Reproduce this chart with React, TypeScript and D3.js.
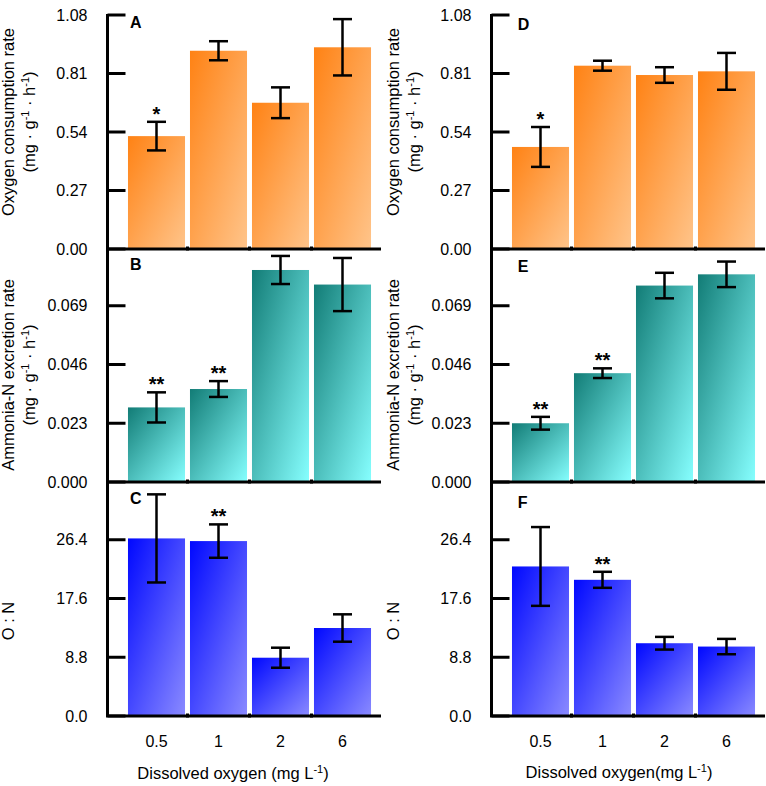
import React from "react";
import * as d3 from "d3";

// dissolved oxygen levels (mg/L)
const doLevels = ["0.5", "1", "2", "6"];

// oxygen consumption rate (mg g-1 h-1)
const o2Left = [0.521, 0.915, 0.675, 0.931];
const o2LeftErr = [0.066, 0.044, 0.071, 0.13];
const o2Right = [0.471, 0.846, 0.803, 0.82];
const o2RightErr = [0.092, 0.023, 0.036, 0.085];

// ammonia-N excretion rate (mg g-1 h-1)
const nhLeft = [0.0292, 0.0364, 0.083, 0.0773];
const nhLeftErr = [0.0059, 0.0031, 0.0055, 0.0104];
const nhRight = [0.023, 0.0426, 0.0769, 0.0813];
const nhRightErr = [0.0025, 0.0019, 0.005, 0.005];

// O:N ratio
const onLeft = [26.6, 26.2, 8.73, 13.18];
const onLeftErr = [6.6, 2.5, 1.5, 2.05];
const onRight = [22.4, 20.4, 10.9, 10.4];
const onRightErr = [5.9, 1.2, 0.95, 1.15];

// significance marks
const starsA = ["*", "", "", ""];
const starsB = ["**", "**", "", ""];
const starsC = ["", "**", "", ""];
const starsD = ["*", "", "", ""];
const starsE = ["**", "**", "", ""];
const starsF = ["", "**", "", ""];

// tick values / labels
const o2Ticks = [0, 0.27, 0.54, 0.81, 1.08];
const nhTicks = [0, 0.023, 0.046, 0.069];
const onTicks = [0, 8.8, 17.6, 26.4];

const FONT = "'Liberation Sans', Arial, Helvetica, sans-serif";

type PanelProps = {
  dx: number;
  top: number;
  bottom: number;
  max: number;
  values: number[];
  errs: number[];
  stars: string[];
  ticks: number[];
  fmt: string;
  letter: string;
  letterY: number;
  grad: string;
};

const Panel = (p: PanelProps) => {
  const axisX = 107.5 + p.dx;
  const x = d3
    .scaleBand()
    .domain(doLevels)
    .range([125.5 + p.dx, 373.5 + p.dx])
    .paddingInner(0.08)
    .paddingOuter(0.04);
  const y = d3.scaleLinear().domain([0, p.max]).range([p.bottom, p.top]);
  const f = d3.format(p.fmt);
  const bw = x.bandwidth();
  const xEnd = 381 + p.dx;

  return (
    <g>
      {p.values.map((v, i) => {
        const cx = x(doLevels[i])! + bw / 2;
        const hi = y(v + p.errs[i]);
        const lo = y(v - p.errs[i]);
        return (
          <g key={i}>
            <rect
              x={x(doLevels[i])}
              y={y(v)}
              width={bw}
              height={p.bottom - y(v)}
              fill={`url(#${p.grad})`}
            />
            <line x1={cx} x2={cx} y1={hi} y2={lo} stroke="#000" strokeWidth={2.5} />
            <line x1={cx - 9.5} x2={cx + 9.5} y1={hi} y2={hi} stroke="#000" strokeWidth={2.5} />
            <line x1={cx - 9.5} x2={cx + 9.5} y1={lo} y2={lo} stroke="#000" strokeWidth={2.5} />
            {p.stars[i] && (
              <text
                x={cx}
                y={hi - 1}
                textAnchor="middle"
                fontSize={20}
                fontWeight="bold"
                fontFamily={FONT}
              >
                {p.stars[i]}
              </text>
            )}
          </g>
        );
      })}
      {/* y axis */}
      <line x1={axisX} x2={axisX} y1={p.top - 1} y2={p.bottom + 1} stroke="#000" strokeWidth={3} />
      {p.ticks.map((t) => (
        <g key={t}>
          <line x1={axisX} x2={axisX + 18} y1={y(t)} y2={y(t)} stroke="#000" strokeWidth={3} />
          <text
            x={axisX - 20}
            y={y(t)}
            dy="0.35em"
            textAnchor="end"
            fontSize={16}
            fontFamily={FONT}
          >
            {f(t)}
          </text>
        </g>
      ))}
      {/* x axis */}
      <line x1={axisX - 1.5} x2={xEnd} y1={p.bottom} y2={p.bottom} stroke="#000" strokeWidth={3} />
      {doLevels.slice(1).map((d) => {
        const bx = x(d)! - (x.step() - bw) / 2;
        return <line key={d} x1={bx} x2={bx} y1={p.bottom - 2.5} y2={p.bottom + 1.5} stroke="#000" strokeWidth={3} />;
      })}
      <text x={130 + p.dx * 1.01} y={p.letterY} fontSize={16} fontWeight="bold" fontFamily={FONT}>
        {p.letter}
      </text>
    </g>
  );
};

const UnitLabel = ({ x, y, title }: { x: number; y: number; title: string }) => (
  <g fontFamily={FONT} fontSize={16.5}>
    <text transform={`translate(${x},${y}) rotate(-90)`} textAnchor="middle">
      {title}
    </text>
    <text transform={`translate(${x + 21},${y}) rotate(-90)`} textAnchor="middle">
      (mg · g<tspan dy={-6} fontSize={11}>-1</tspan>
      <tspan dy={6}> · h</tspan>
      <tspan dy={-6} fontSize={11}>-1</tspan>
      <tspan dy={6}>)</tspan>
    </text>
  </g>
);

const Gradient = ({ id, from, to }: { id: string; from: string; to: string }) => (
  <linearGradient id={id} x1="0" y1="0" x2="1" y2="1">
    <stop offset="0" stopColor={from} />
    <stop offset="1" stopColor={to} />
  </linearGradient>
);

const App: React.FC = () => {
  const R = 384;
  return (
    <svg
      width={766}
      height={786}
      style={{ position: "absolute", left: 0, top: 0, background: "#fff" }}
    >
      <defs>
        <Gradient id="gOrange" from="#ff8214" to="#ffc48a" />
        <Gradient id="gTeal" from="#127c76" to="#86ffff" />
        <Gradient id="gBlue" from="#0008ff" to="#8a8aff" />
      </defs>

      {/* left column */}
      <Panel dx={0} top={15} bottom={249} max={1.08} values={o2Left} errs={o2LeftErr} stars={starsA} ticks={o2Ticks} fmt=".2f" letter="A" letterY={28} grad="gOrange" />
      <Panel dx={0} top={247} bottom={482} max={0.092} values={nhLeft} errs={nhLeftErr} stars={starsB} ticks={nhTicks} fmt=".3f" letter="B" letterY={270} grad="gTeal" />
      <Panel dx={0} top={481} bottom={716} max={35.2} values={onLeft} errs={onLeftErr} stars={starsC} ticks={onTicks} fmt=".1f" letter="C" letterY={504} grad="gBlue" />

      {/* right column */}
      <Panel dx={R} top={15} bottom={249} max={1.08} values={o2Right} errs={o2RightErr} stars={starsD} ticks={o2Ticks} fmt=".2f" letter="D" letterY={30} grad="gOrange" />
      <Panel dx={R} top={247} bottom={482} max={0.092} values={nhRight} errs={nhRightErr} stars={starsE} ticks={nhTicks} fmt=".3f" letter="E" letterY={272} grad="gTeal" />
      <Panel dx={R} top={481} bottom={716} max={35.2} values={onRight} errs={onRightErr} stars={starsF} ticks={onTicks} fmt=".1f" letter="F" letterY={508} grad="gBlue" />

      {/* y titles */}
      <UnitLabel x={14} y={122} title="Oxygen consumption rate" />
      <UnitLabel x={14} y={375} title="Ammonia-N excretion rate" />
      <UnitLabel x={14 + R + 1} y={122} title="Oxygen consumption rate" />
      <UnitLabel x={14 + R + 1} y={375} title="Ammonia-N excretion rate" />
      <text transform="translate(14,621) rotate(-90)" textAnchor="middle" fontSize={16.5} fontFamily={FONT}>
        O : N
      </text>
      <text transform={`translate(${14 + R + 1},621) rotate(-90)`} textAnchor="middle" fontSize={16.5} fontFamily={FONT}>
        O : N
      </text>

      {/* x tick labels */}
      {[0, R].map((dx) => {
        const x = d3
          .scaleBand()
          .domain(doLevels)
          .range([125.5 + dx, 373.5 + dx])
          .paddingInner(0.08)
          .paddingOuter(0.04);
        return doLevels.map((d) => (
          <text
            key={`${dx}-${d}`}
            x={x(d)! + x.bandwidth() / 2}
            y={747}
            textAnchor="middle"
            fontSize={16}
            fontFamily={FONT}
          >
            {d}
          </text>
        ));
      })}

      {/* x titles */}
      <text x={233} y={779} textAnchor="middle" fontSize={16.5} fontFamily={FONT}>
        Dissolved oxygen (mg L<tspan dy={-6} fontSize={11}>-1</tspan>
        <tspan dy={6}>)</tspan>
      </text>
      <text x={619} y={778} textAnchor="middle" fontSize={16.5} fontFamily={FONT}>
        Dissolved oxygen(mg L<tspan dy={-6} fontSize={11}>-1</tspan>
        <tspan dy={6}>)</tspan>
      </text>
    </svg>
  );
};

export default App;
